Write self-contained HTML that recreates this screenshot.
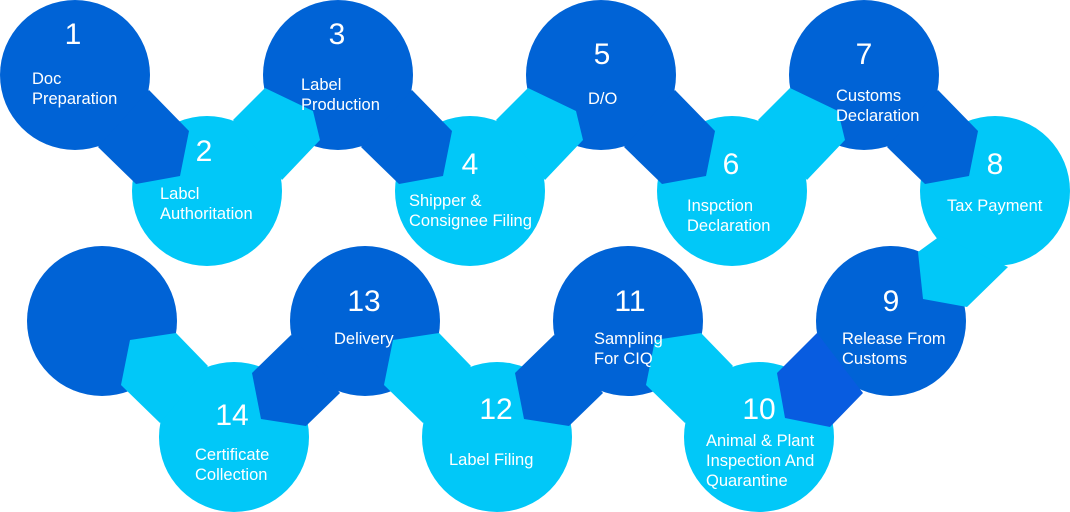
<!DOCTYPE html>
<html><head><meta charset="utf-8"><style>
html,body{margin:0;padding:0;background:#fff;}
svg{display:block;}
text{font-family:"Liberation Sans",sans-serif;fill:#fff;}
.n{font-size:30px;text-anchor:middle;}
.l{font-size:16.5px;}
</style></head><body>
<svg width="1070" height="512" viewBox="0 0 1070 512" xmlns="http://www.w3.org/2000/svg">
<defs>
<polygon id="tdr" points="74,15 114,56 105,101 61,109 23,72"/>
<polygon id="tur" points="26,-71 58,-103 106,-80 113,-51 75,-11"/>
<polygon id="tul" points="-58,-104 -26,-71 -74,-14 -113,-52 -104,-97"/>
<polygon id="tdl" points="-74,14 -25,72 -59,105 -104,98 -113,52"/>
</defs>
<g>
<!-- 15 -->
<circle cx="102" cy="321" r="75" fill="#0063d6"/>
<!-- 14 -->
<circle cx="234" cy="437" r="75" fill="#01c8f8"/>
<use href="#tul" x="234" y="437" fill="#01c8f8"/>
<!-- 13 -->
<circle cx="365" cy="321" r="75" fill="#0063d6"/>
<use href="#tdl" x="365" y="321" fill="#0063d6"/>
<!-- 12 -->
<circle cx="497" cy="437" r="75" fill="#01c8f8"/>
<use href="#tul" x="497" y="437" fill="#01c8f8"/>
<!-- 11 -->
<circle cx="628" cy="321" r="75" fill="#0063d6"/>
<use href="#tdl" x="628" y="321" fill="#0063d6"/>
<!-- 10 -->
<circle cx="759" cy="437" r="75" fill="#01c8f8"/>
<use href="#tul" x="759" y="437" fill="#01c8f8"/>
<!-- 9 -->
<circle cx="891" cy="321" r="75" fill="#0063d6"/>
<polygon points="817,333 777,373 785,418 830,427 863,393" fill="#085ce0"/>
<!-- 8 -->
<circle cx="995" cy="191" r="75" fill="#01c8f8"/>
<polygon points="940,236 918,252 923,299 967,307 1008,267" fill="#01c8f8"/>
<!-- 7 -->
<circle cx="864" cy="75" r="75" fill="#0063d6"/>
<use href="#tdr" x="864" y="75" fill="#0063d6"/>
<!-- 6 -->
<circle cx="732" cy="191" r="75" fill="#01c8f8"/>
<use href="#tur" x="732" y="191" fill="#01c8f8"/>
<!-- 5 -->
<circle cx="601" cy="75" r="75" fill="#0063d6"/>
<use href="#tdr" x="601" y="75" fill="#0063d6"/>
<!-- 4 -->
<circle cx="470" cy="191" r="75" fill="#01c8f8"/>
<use href="#tur" x="470" y="191" fill="#01c8f8"/>
<!-- 3 -->
<circle cx="338" cy="75" r="75" fill="#0063d6"/>
<use href="#tdr" x="338" y="75" fill="#0063d6"/>
<!-- 2 -->
<circle cx="207" cy="191" r="75" fill="#01c8f8"/>
<use href="#tur" x="207" y="191" fill="#01c8f8"/>
<!-- 1 -->
<circle cx="75" cy="75" r="75" fill="#0063d6"/>
<use href="#tdr" x="75" y="75" fill="#0063d6"/>
</g>
<g>
<text class="n" x="73" y="44">1</text>
<text class="l" x="32" y="84">Doc</text><text class="l" x="32" y="104">Preparation</text>
<text class="n" x="204" y="161">2</text>
<text class="l" x="160" y="199">Labcl</text><text class="l" x="160" y="219">Authoritation</text>
<text class="n" x="337" y="44">3</text>
<text class="l" x="301" y="90">Label</text><text class="l" x="301" y="110">Production</text>
<text class="n" x="470" y="174">4</text>
<text class="l" x="409" y="206">Shipper &amp;</text><text class="l" x="409" y="226">Consignee Filing</text>
<text class="n" x="602" y="64">5</text>
<text class="l" x="588" y="104">D/O</text>
<text class="n" x="731" y="174">6</text>
<text class="l" x="687" y="211">Inspction</text><text class="l" x="687" y="231">Declaration</text>
<text class="n" x="864" y="64">7</text>
<text class="l" x="836" y="101">Customs</text><text class="l" x="836" y="121">Declaration</text>
<text class="n" x="995" y="174">8</text>
<text class="l" x="947" y="211">Tax Payment</text>
<text class="n" x="891" y="311">9</text>
<text class="l" x="842" y="344">Release From</text><text class="l" x="842" y="364">Customs</text>
<text class="n" x="759" y="419">10</text>
<text class="l" x="706" y="446">Animal &amp; Plant</text><text class="l" x="706" y="466">Inspection And</text><text class="l" x="706" y="486">Quarantine</text>
<text class="n" x="630" y="311">11</text>
<text class="l" x="594" y="344">Sampling</text><text class="l" x="594" y="364">For CIQ</text>
<text class="n" x="496" y="419">12</text>
<text class="l" x="449" y="465">Label Filing</text>
<text class="n" x="364" y="311">13</text>
<text class="l" x="334" y="344">Delivery</text>
<text class="n" x="232" y="425">14</text>
<text class="l" x="195" y="460">Certificate</text><text class="l" x="195" y="480">Collection</text>
</g>
</svg>
</body></html>
